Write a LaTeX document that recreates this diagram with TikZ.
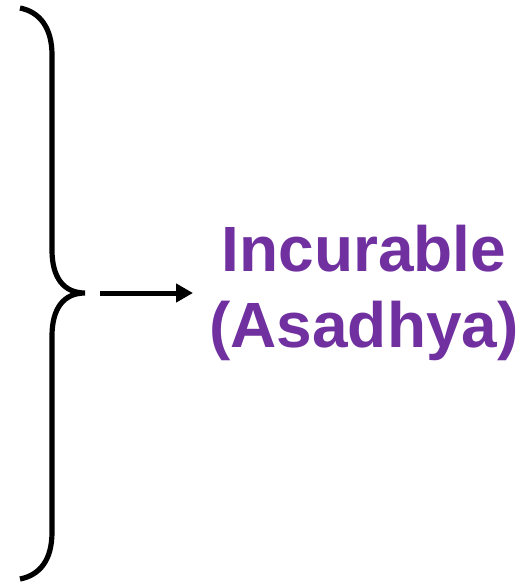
\documentclass[tikz,border=0pt]{standalone}
\usepackage{fontspec}
\setmainfont{Liberation Sans}
\usetikzlibrary{arrows.meta}
\definecolor{darkviolet}{HTML}{7030A0}
\tikzstyle{brace} = [line width=3.9pt, draw=black]
\tikzstyle{outcome} = [text=darkviolet, font=\fontsize{48}{57}\selectfont\bfseries, align=center, inner sep=12pt]
\tikzstyle{arrow} = [line width=3.75pt, -{Triangle[length=12.75pt, width=13.5pt]}]

\begin{document}
\begin{tikzpicture}[x=0.75pt, y=-0.75pt]
\useasboundingbox (0,0) rectangle (523,586);

% Nodes
\coordinate (tip) at (85,293);
\coordinate (start) at (100,293);
\node (incurable) [outcome] at (364,293) {Incurable\\(Asadhya)};

% Brace
\draw [brace] (20,8) .. controls (40,12) and (52,28) .. (52,55) -- (52,250)
  .. controls (52,278) and (64,293) .. (tip)
  .. controls (64,293) and (52,308) .. (52,336) -- (52,532)
  .. controls (52,560) and (40,575) .. (20,579);

% Arrows
\draw [arrow] (start) -- (incurable.west);

\end{tikzpicture}
\end{document}
